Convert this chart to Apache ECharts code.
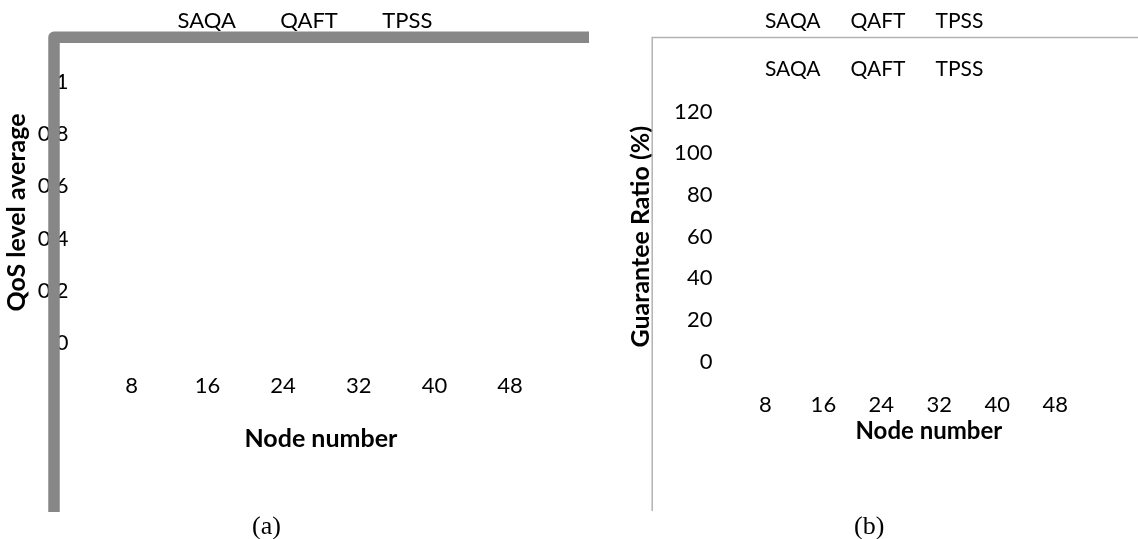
<!DOCTYPE html>
<html>
<head>
<meta charset="utf-8">
<script src="https://cdn.jsdelivr.net/npm/echarts@6/dist/echarts.min.js"></script>
<style>
html,body{margin:0;padding:0;background:#fff;}
#c{width:1138px;height:539px;}
</style>
</head>
<body>
<div id="c"></div>
<script>
// ---- data ----
const categories = ['8', '16', '24', '32', '40', '48'];
const seriesNames = ['SAQA', 'QAFT', 'TPSS'];
// No bars are visible in the reference image: values shown as empty (null)
const qosSAQA = [null, null, null, null, null, null];
const qosQAFT = [null, null, null, null, null, null];
const qosTPSS = [null, null, null, null, null, null];
const grSAQA = [null, null, null, null, null, null];
const grQAFT = [null, null, null, null, null, null];
const grTPSS = [null, null, null, null, null, null];
const qosTicks = { min: 0, max: 1, interval: 0.2 };
const grTicks = { min: 0, max: 120, interval: 20 };

const FONT = 'Lato';
const FS = 22;
const FSB = 25;
const chart = echarts.init(document.getElementById('c'), null, { renderer: 'canvas' });

function legendAt(left, top, gap, fs) {
  return {
    data: seriesNames, orient: 'horizontal', left: left, top: top, itemGap: gap,
    itemWidth: 14, itemHeight: 14, itemStyle: { opacity: 0 },
    textStyle: { fontFamily: FONT, fontSize: fs, color: '#000' },
    selectedMode: false
  };
}

function axisX(gridIndex, margin, gap, padding, nameFs) {
  return {
    type: 'category', gridIndex: gridIndex, data: categories,
    axisLine: { show: false }, axisTick: { show: false }, splitLine: { show: false },
    axisLabel: { fontFamily: FONT, fontSize: FS, color: '#000', margin: margin },
    name: 'Node number', nameLocation: 'middle', nameGap: gap,
    nameTextStyle: { fontFamily: FONT, fontSize: nameFs, fontWeight: 'bold', color: '#000', padding: padding }
  };
}
function axisY(gridIndex, ticks, name, gap, margin) {
  return {
    type: 'value', gridIndex: gridIndex, min: ticks.min, max: ticks.max, interval: ticks.interval,
    axisLine: { show: false }, axisTick: { show: false }, splitLine: { show: false },
    axisLabel: { fontFamily: FONT, fontSize: FS, color: '#000', margin: margin },
    name: name, nameLocation: 'middle', nameGap: gap, nameRotate: 90,
    nameTextStyle: { fontFamily: FONT, fontSize: FSB, fontWeight: 'bold', color: '#000' }
  };
}
function bar(name, data, idx) {
  return { type: 'bar', name: name, data: data, xAxisIndex: idx, yAxisIndex: idx };
}

const capStyle = { fontFamily: 'Liberation Serif', fontSize: 26, fontWeight: 'normal', color: '#000' };

chart.setOption({
  animation: false,
  backgroundColor: '#fff',
  title: [
    { text: '(a)', left: 252, top: 514, textStyle: capStyle, padding: 0 },
    { text: '(b)', left: 854, top: 514, textStyle: capStyle, padding: 0 }
  ],
  legend: [
    legendAt(153.6, 5, 25.5, 22),
    legendAt(741, 6, 11, 21),
    legendAt(741, 54, 11, 21)
  ],
  grid: [
    { left: 93.9, top: 81.7, width: 454, height: 261.6 },
    { left: 736.4, top: 111.7, width: 347.9, height: 250 }
  ],
  xAxis: [ axisX(0, 31.7, 83, 0, 25), axisX(1, 32.3, 57.5, [0, 0, 0, 37], 24) ],
  yAxis: [ axisY(0, qosTicks, 'QoS level average', 64, 25.5), axisY(1, grTicks, 'Guarantee Ratio (%)', 83, 24) ],
  series: [
    bar(seriesNames[0], qosSAQA, 0), bar(seriesNames[1], qosQAFT, 0), bar(seriesNames[2], qosTPSS, 0),
    bar(seriesNames[0], grSAQA, 1), bar(seriesNames[1], grQAFT, 1), bar(seriesNames[2], grTPSS, 1)
  ],
  graphic: [
    { type: 'polyline', z: 100, shape: { points: [[54, 512], [54, 37.2], [589, 37.2]] },
      style: { stroke: '#878787', lineWidth: 11.5, fill: null, lineJoin: 'round' } },
    { type: 'polyline', z: 100, shape: { points: [[652.2, 511], [652.2, 37.5], [1138, 37.5]] },
      style: { stroke: '#b3b3b3', lineWidth: 1.5, fill: null } }
  ]
});
</script>
</body>
</html>
